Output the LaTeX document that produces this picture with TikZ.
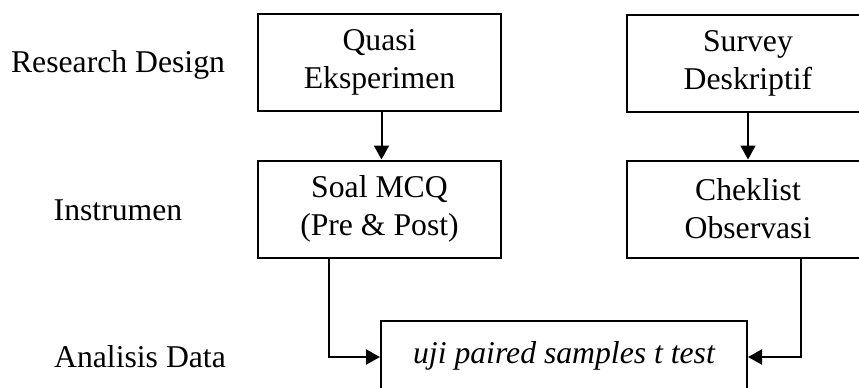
\documentclass[tikz,border=0pt]{standalone}
\usepackage{fontspec}
\setmainfont{Liberation Serif}
\usetikzlibrary{arrows.meta}
\begin{document}
\begin{tikzpicture}[x=0.5pt,y=-0.5pt,
  every node/.style={font=\fontsize{15.85}{19}\selectfont},
  box/.style={draw,line width=1pt,inner sep=0pt,align=center,
    minimum width=121.5pt,minimum height=48.5pt},
  lbl/.style={inner sep=0pt,anchor=base},
  arr/.style={line width=1pt,-{Triangle[length=7pt,width=7.5pt]}}]
\clip (0,0) rectangle (859,387);
\node[lbl] (l1) at (118,72) {Research Design};
\node[lbl] (l2) at (118,220) {Instrumen};
\node[lbl] (l3) at (140,367) {Analisis Data};
\node[box] (quasi) at (379.5,62.5) {Quasi\\Eksperimen};
\node[box] (survey) at (748,63) {Survey\\Deskriptif};
\node[box] (soal) at (379.5,209) {Soal MCQ\\(Pre \& Post)};
\node[box] (chek) at (748,209) {Cheklist\\Observasi};
\node[box,minimum width=183pt,minimum height=35pt] (uji) at (564,356) {\itshape uji paired samples t test};
\draw[arr] ([xshift=1pt]quasi.south) -- ([xshift=1pt]soal.north);
\draw[arr] (survey.south) -- (chek.north);
\draw[arr] ([xshift=-25.5pt]soal.south) |- ([yshift=-0.5pt]uji.west);
\draw[arr] ([xshift=26.5pt]chek.south) |- ([yshift=-0.5pt]uji.east);
\end{tikzpicture}
\end{document}
